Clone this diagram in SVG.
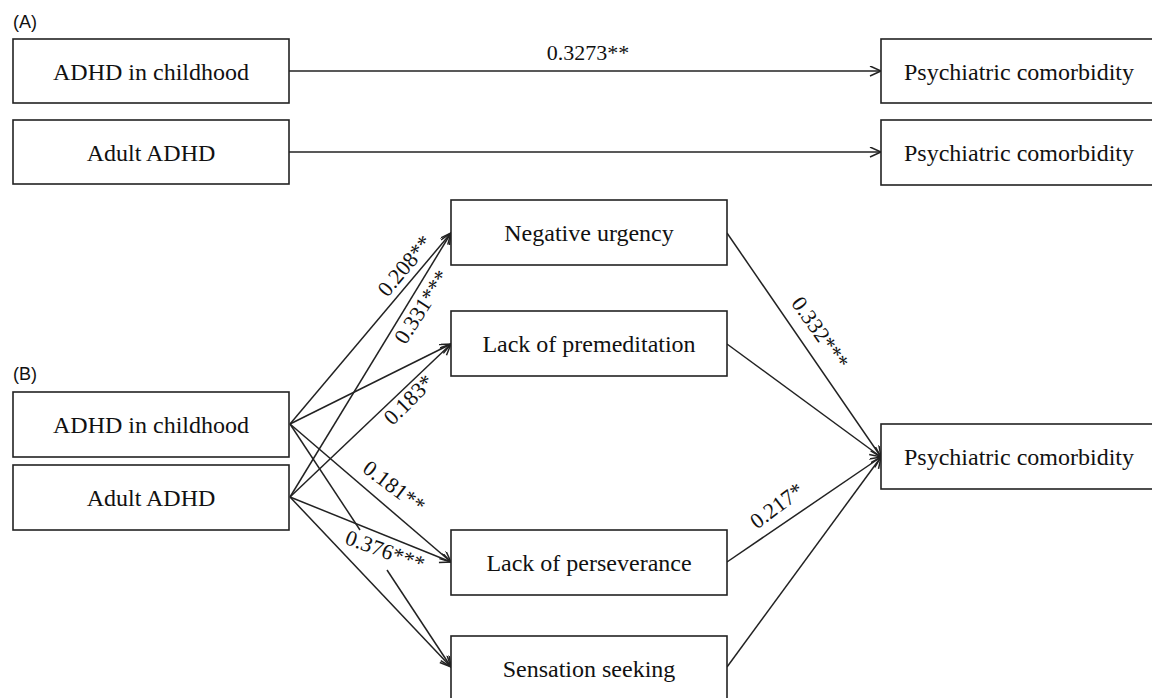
<svg xmlns="http://www.w3.org/2000/svg" width="1152" height="698" viewBox="0 0 1152 698">
<style>
.box{fill:#fff;stroke:#222;stroke-width:1.6}
.t{font-family:"Liberation Serif",serif;font-size:24px;fill:#111;text-anchor:middle}
.lab{font-family:"Liberation Serif",serif;font-size:22px;fill:#111;text-anchor:middle}
.panel{font-family:"Liberation Sans",sans-serif;font-size:18px;fill:#111}
.c{stroke:#222;stroke-width:1.5;fill:none}
.a{marker-end:url(#arr)}
</style>
<defs>
<marker id="arr" markerUnits="userSpaceOnUse" markerWidth="14" markerHeight="12" refX="12" refY="5" orient="auto">
<path d="M1,0 L12,5 L1,10" fill="none" stroke="#222" stroke-width="1.5"/>
</marker>
</defs>
<rect width="1152" height="698" fill="#fff"/>
<text class="panel" x="13" y="28">(A)</text>
<text class="panel" x="13" y="380">(B)</text>
<g id="connectors">
<line class="c a" x1="289" y1="71" x2="881" y2="71"/>
<line class="c a" x1="289" y1="152" x2="881" y2="152"/>
<line class="c a" x1="290" y1="424" x2="451" y2="233"/>
<line class="c a" x1="290" y1="497" x2="451" y2="233"/>
<line class="c a" x1="290" y1="424" x2="451" y2="344"/>
<line class="c a" x1="290" y1="497" x2="451" y2="344"/>
<line class="c a" x1="290" y1="424" x2="451" y2="562"/>
<line class="c a" x1="290" y1="497" x2="451" y2="562"/>
<line class="c" x1="290" y1="424" x2="360" y2="530"/>
<line class="c a" x1="387" y1="570" x2="451" y2="667"/>
<line class="c a" x1="290" y1="497" x2="451" y2="667"/>
<line class="c a" x1="727" y1="233" x2="881" y2="457"/>
<line class="c a" x1="727" y1="344" x2="881" y2="457"/>
<line class="c a" x1="727" y1="562" x2="881" y2="457"/>
<line class="c a" x1="727" y1="667" x2="881" y2="457"/>
</g>
<g id="labels">
<text class="lab" x="588" y="60">0.3273**</text>
<text class="lab" transform="translate(405,266) rotate(-50)" y="7">0.208**</text>
<text class="lab" transform="translate(422,307) rotate(-57)" y="7">0.331***</text>
<text class="lab" transform="translate(409,400) rotate(-45)" y="7">0.183*</text>
<text class="lab" transform="translate(394,487) rotate(37)" y="7">0.181**</text>
<text class="lab" transform="translate(385,551) rotate(20)" y="7">0.376***</text>
<text class="lab" transform="translate(820,333) rotate(55)" y="7">0.332***</text>
<text class="lab" transform="translate(777,506) rotate(-37)" y="7">0.217*</text>
</g>
<g id="a_adhd_child"><rect class="box" x="13" y="39" width="276" height="64"/><text class="t" x="151" y="80">ADHD in childhood</text></g>
<g id="a_adult_adhd"><rect class="box" x="13" y="120" width="276" height="64"/><text class="t" x="151" y="161">Adult ADHD</text></g>
<g id="a_psych1"><rect class="box" x="881" y="39" width="280" height="64"/><text class="t" x="1019" y="80">Psychiatric comorbidity</text></g>
<g id="a_psych2"><rect class="box" x="881" y="120" width="280" height="65"/><text class="t" x="1019" y="161">Psychiatric comorbidity</text></g>
<g id="b_adhd_child"><rect class="box" x="13" y="392" width="276" height="65"/><text class="t" x="151" y="433">ADHD in childhood</text></g>
<g id="b_adult_adhd"><rect class="box" x="13" y="465" width="276" height="65"/><text class="t" x="151" y="506">Adult ADHD</text></g>
<g id="neg_urgency"><rect class="box" x="451" y="200" width="276" height="65"/><text class="t" x="589" y="241">Negative urgency</text></g>
<g id="lack_premed"><rect class="box" x="451" y="311" width="276" height="65"/><text class="t" x="589" y="352">Lack of premeditation</text></g>
<g id="lack_persev"><rect class="box" x="451" y="530" width="276" height="65"/><text class="t" x="589" y="571">Lack of perseverance</text></g>
<g id="sensation"><rect class="box" x="451" y="636" width="276" height="65"/><text class="t" x="589" y="677">Sensation seeking</text></g>
<g id="b_psych"><rect class="box" x="881" y="424" width="280" height="65"/><text class="t" x="1019" y="465">Psychiatric comorbidity</text></g>
</svg>
